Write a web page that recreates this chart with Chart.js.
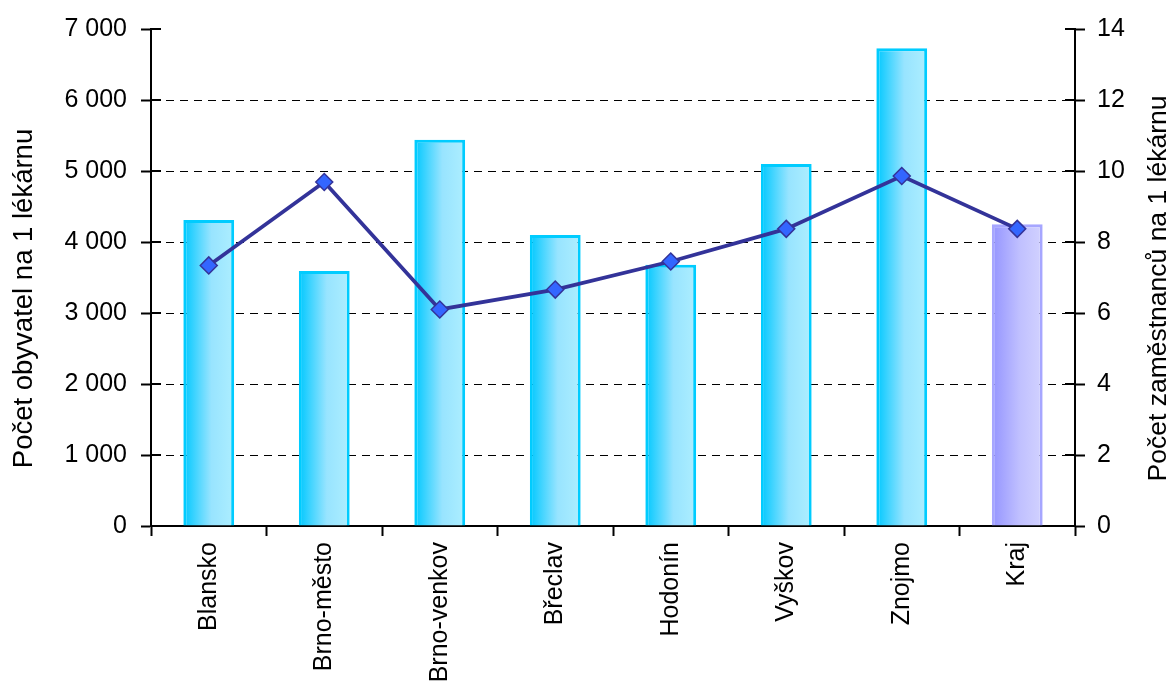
<!DOCTYPE html>
<html>
<head>
<meta charset="utf-8">
<script src="https://cdn.jsdelivr.net/npm/chart.js@4"></script>
<style>
  html, body { margin: 0; padding: 0; background: #fff; }
  #wrap { width: 1174px; height: 686px; }
</style>
</head>
<body>
<div id="wrap"><canvas id="c" width="1174" height="686"></canvas></div>
<script>
// ---- data ----
const categories = ['Blansko', 'Brno-město', 'Brno-venkov', 'Břeclav', 'Hodonín', 'Vyškov', 'Znojmo', 'Kraj'];
const inhabitantsPerPharmacy = [4310, 3590, 5440, 4100, 3680, 5100, 6730, 4250];
const employeesPerPharmacy = [7.34, 9.69, 6.10, 6.66, 7.45, 8.37, 9.86, 8.37];
const leftTicks = [0, 1000, 2000, 3000, 4000, 5000, 6000, 7000];
const rightTicks = [0, 2, 4, 6, 8, 10, 12, 14];
const leftTitle = 'Počet obyvatel na 1 lékárnu';
const rightTitle = 'Počet zaměstnanců na 1 lékárnu';
const highlightCategory = 'Kraj';

const FONT = "'Liberation Sans', Arial, sans-serif";
const SZ = { tick: 25, xlab: 25, leftTitle: 27.5, rightTitle: 26.5 };
const BAR_PCT = 0.44;

function fmtThousands(v) {
  return String(v).replace(/\B(?=(\d{3})+(?!\d))/g, ' ');
}

const gradientBars = {
  id: 'gradientBars',
  beforeDatasetsDraw(chart) {
    const ctx = chart.ctx;
    chart.data.datasets.forEach((ds, di) => {
      const meta = chart.getDatasetMeta(di);
      if (meta.type !== 'bar') return;
      meta.data.forEach((el, i) => {
        const hl = categories[i] === highlightCategory;
        const w = el.width;
        if (!isFinite(el.x) || !isFinite(w)) return;
        const g = ctx.createLinearGradient(el.x - w / 2, 0, el.x + w / 2, 0);
        if (hl) {
          g.addColorStop(0, '#9494FF');
          g.addColorStop(0.55, '#C0C0FF');
          g.addColorStop(1, '#D2D2FF');
        } else {
          g.addColorStop(0, '#00C8FF');
          g.addColorStop(0.55, '#98E4FF');
          g.addColorStop(1, '#ADEEFF');
        }
        el.options.backgroundColor = g;
      });
    });
  }
};

const extras = {
  id: 'extras',
  afterDraw(chart) {
    const ctx = chart.ctx;
    const yl = chart.scales.y, yr = chart.scales.y2, area = chart.chartArea;
    ctx.save();
    ctx.strokeStyle = '#000';
    ctx.lineWidth = 2;
    leftTicks.forEach(v => {
      const py = Math.round(yl.getPixelForValue(v));
      ctx.beginPath(); ctx.moveTo(area.left, py); ctx.lineTo(area.left + 10, py); ctx.stroke();
    });
    rightTicks.forEach(v => {
      const py = Math.round(yr.getPixelForValue(v));
      ctx.beginPath(); ctx.moveTo(area.right - 10, py); ctx.lineTo(area.right, py); ctx.stroke();
    });
    ctx.fillStyle = '#000';
    ctx.textAlign = 'center';
    ctx.textBaseline = 'middle';
    const midY = (area.top + area.bottom) / 2;
    ctx.save();
    ctx.font = SZ.leftTitle + 'px ' + FONT;
    ctx.translate(24, midY + 21);
    ctx.rotate(-Math.PI / 2);
    ctx.fillText(leftTitle, 0, 0);
    ctx.restore();
    ctx.save();
    ctx.font = SZ.rightTitle + 'px ' + FONT;
    ctx.translate(1159, midY + 11);
    ctx.rotate(-Math.PI / 2);
    ctx.fillText(rightTitle, 0, 0);
    ctx.restore();
    ctx.restore();
  }
};

new Chart(document.getElementById('c'), {
  type: 'bar',
  data: {
    labels: categories,
    datasets: [
      {
        type: 'line',
        label: rightTitle,
        data: employeesPerPharmacy,
        yAxisID: 'y2',
        order: 0,
        borderColor: '#333399',
        borderWidth: 3.8,
        pointStyle: 'rectRot',
        pointRadius: 8.5,
        pointHoverRadius: 8.5,
        pointBackgroundColor: '#3366FF',
        pointBorderColor: '#333399',
        pointBorderWidth: 1.5,
        tension: 0,
        fill: false
      },
      {
        type: 'bar',
        label: leftTitle,
        data: inhabitantsPerPharmacy,
        yAxisID: 'y',
        order: 1,
        backgroundColor: categories.map(c => c === highlightCategory ? '#9999FF' : '#00CCFF'),
        borderColor: categories.map(c => c === highlightCategory ? '#A6A6FF' : '#00CCFF'),
        borderWidth: 3,
        borderSkipped: 'bottom',
        barPercentage: BAR_PCT,
        categoryPercentage: 1
      }
    ]
  },
  options: {
    responsive: false,
    animation: false,
    layout: { padding: { top: 26, left: 0, right: 0, bottom: 0 } },
    plugins: { legend: { display: false }, tooltip: { enabled: false } },
    scales: {
      x: {
        offset: true,
        grid: { offset: true, drawOnChartArea: false, drawTicks: true, tickLength: 10, tickColor: '#000', tickWidth: 2 },
        border: { display: true, color: '#000', width: 2 },
        ticks: { color: '#000', font: { family: FONT, size: SZ.xlab }, minRotation: 90, maxRotation: 90, padding: 6, autoSkip: false },
        afterFit(s) { s.height = 160; }
      },
      y: {
        position: 'left',
        min: 0, max: 7000,
        afterBuildTicks(s) { s.ticks = leftTicks.map(v => ({ value: v })); },
        grid: {
          drawOnChartArea: true,
          color: c => (c.tick && (c.tick.value === 0 || c.tick.value === 7000)) ? 'rgba(0,0,0,0)' : '#000',
          lineWidth: 1,
          tickColor: '#000', tickWidth: 2, tickLength: 10
        },
        border: { display: true, color: '#000', width: 2, dash: [8, 6] },
        ticks: { color: '#000', font: { family: FONT, size: SZ.tick }, padding: 14, callback: v => fmtThousands(v) },
        afterFit(s) { s.width = 151; }
      },
      y2: {
        position: 'right',
        min: 0, max: 14,
        afterBuildTicks(s) { s.ticks = rightTicks.map(v => ({ value: v })); },
        grid: { drawOnChartArea: false, tickColor: '#000', tickWidth: 2, tickLength: 10 },
        border: { display: true, color: '#000', width: 2 },
        ticks: { color: '#000', font: { family: FONT, size: SZ.tick }, padding: 12 },
        afterFit(s) { s.width = 99; }
      }
    }
  },
  plugins: [gradientBars, extras]
});
</script>
</body>
</html>
